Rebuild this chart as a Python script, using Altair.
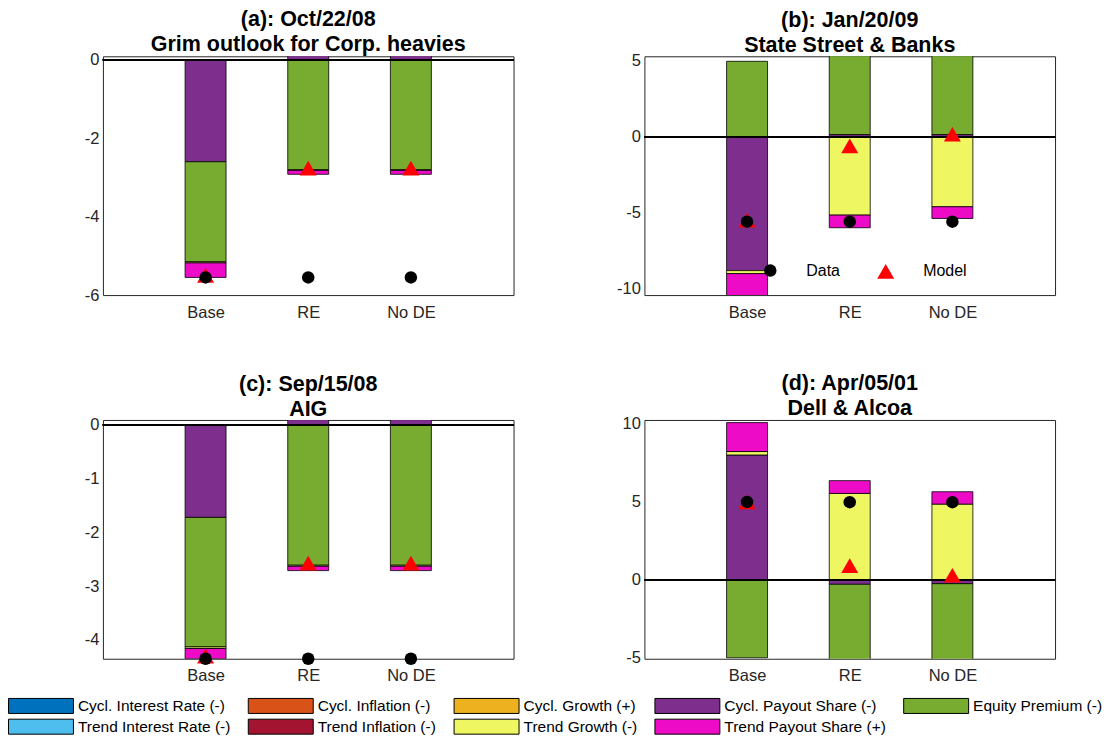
import altair as alt
import pandas as pd

components = ["Cycl. Interest Rate (-)", "Cycl. Inflation (-)", "Cycl. Growth (+)",
              "Cycl. Payout Share (-)", "Equity Premium (-)", "Trend Interest Rate (-)",
              "Trend Inflation (-)", "Trend Growth (-)", "Trend Payout Share (+)"]
colors = ["#0072BD", "#D95319", "#EDB120", "#7E2F8E", "#77AC30",
          "#4DBEEE", "#A2142F", "#EEF662", "#EE0BC8"]
scenarios = ["Base", "RE", "No DE"]
kinds = ["Data", "Model"]

# panel (a)
a_title = ["(a): Oct/22/08", "Grim outlook for Corp. heavies"]
a_base = [0, 0, 0, -2.6, -2.55, 0, 0, -0.03, -0.37]
a_re = [0, 0, 0, 0.3, -2.8, 0, 0, -0.02, -0.1]
a_node = [0, 0, 0, 0.3, -2.8, 0, 0, -0.02, -0.1]
a_data = [-5.55, -5.55, -5.55]
a_model = [-5.5, -2.76, -2.76]
a_ylim = [-6.0, 0.09]
a_ticks = [-6, -4, -2, 0]

# panel (b)
b_title = ["(b): Jan/20/09", "State Street & Banks"]
b_base = [0, 0, 0, -8.8, 4.97, 0, 0, -0.2, -2.5]
b_re = [0, 0, 0, 0.15, 6.0, 0, 0, -5.15, -0.83]
b_node = [0, 0, 0, 0.15, 6.0, 0, 0, -4.6, -0.77]
b_data = [-5.58, -5.58, -5.58]
b_model = [-5.48, -0.6, 0.17]
b_ylim = [-10.41, 5.3]
b_ticks = [-10, -5, 0, 5]

# panel (c)
c_title = ["(c): Sep/15/08", "AIG"]
c_base = [0, 0, 0, -1.72, -2.41, 0, 0, -0.03, -0.19]
c_re = [0, 0, 0, 0.1, -2.61, 0, 0, -0.02, -0.08]
c_node = [0, 0, 0, 0.1, -2.61, 0, 0, -0.02, -0.08]
c_data = [-4.35, -4.35, -4.35]
c_model = [-4.3, -2.57, -2.57]
c_ylim = [-4.35, 0.093]
c_ticks = [-4, -3, -2, -1, 0]

# panel (d)
d_title = ["(d): Apr/05/01", "Dell & Alcoa"]
d_base = [0, 0, 0, 7.97, -5.0, 0, 0, 0.22, 1.85]
d_re = [0, 0, 0, -0.3, -5.2, 0, 0, 5.51, 0.82]
d_node = [0, 0, 0, -0.26, -5.2, 0, 0, 4.83, 0.79]
d_data = [4.97, 4.95, 4.95]
d_model = [4.97, 0.9, 0.28]
d_ylim = [-5.06, 10.21]
d_ticks = [-5, 0, 5, 10]

FONT = "Liberation Sans"

fill_legend = alt.Legend(
    orient="none", legendX=-95, legendY=642, columns=5, direction="horizontal",
    title=None, symbolType="M-1,-1L7.667,-1L7.667,1L-1,1Z",
    symbolSize=225, symbolStrokeColor="black", symbolStrokeWidth=1,
    labelFontSize=15.5, labelFont=FONT, labelColor="black", labelLimit=400,
    columnPadding=15, rowPadding=1, labelOffset=54, gridAlign="each", padding=0,
)
pt_legend = alt.Legend(
    orient="none", legendX=660, legendY=205.5, direction="horizontal", title=None,
    labelFontSize=16, labelFont=FONT, labelColor="black", labelOffset=28,
    columnPadding=36, padding=0,
)

label_fix = "replace(datum.label, '\u2212', '-')"


def panel(title, vals, data, model, ylim, ticks):
    rows = []
    for s, v in zip(scenarios, vals):
        for i, (c, x) in enumerate(zip(components, v)):
            rows.append({"scenario": s, "component": c, "order": i, "value": x})
    bars_df = pd.DataFrame(rows)
    pts = []
    for s, d, m in zip(scenarios, data, model):
        pts.append({"scenario": s, "kind": "Data", "value": d})
        pts.append({"scenario": s, "kind": "Model", "value": m})
    pts_df = pd.DataFrame(pts)

    x = alt.X("scenario:N", sort=scenarios,
              scale=alt.Scale(type="point", domain=scenarios, padding=1),
              axis=alt.Axis(title=None, labelAngle=0, labelPadding=9))
    yaxis = alt.Axis(title=None, values=ticks, labelPadding=4, labelExpr=label_fix)
    yscale = alt.Scale(domain=ylim, nice=False, zero=False)
    y = alt.Y("value:Q", scale=yscale, axis=yaxis)

    bars = alt.Chart(bars_df).transform_filter("datum.value != 0").mark_bar(
        size=41, clip=True, stroke="black", strokeWidth=0.8
    ).encode(
        x=x,
        y=alt.Y("value:Q", stack="zero", scale=yscale, axis=yaxis),
        fill=alt.Fill("component:N", scale=alt.Scale(domain=components, range=colors),
                      legend=fill_legend),
        order=alt.Order("order:Q"),
    )
    zero = alt.Chart(bars_df).mark_rule(color="black", strokeWidth=1).encode(
        y=alt.datum(0)
    )
    enc = dict(
        x=x, y=y,
        color=alt.Color("kind:N", scale=alt.Scale(domain=kinds, range=["black", "red"]),
                        legend=pt_legend),
        shape=alt.Shape("kind:N", scale=alt.Scale(domain=kinds, range=["circle", "triangle-up"]),
                        legend=pt_legend),
        size=alt.Size("kind:N", scale=alt.Scale(domain=kinds, range=[156, 289]),
                      legend=pt_legend),
    )
    model_pts = alt.Chart(pts_df).transform_filter("datum.kind == 'Model'").mark_point(
        filled=True, opacity=1).encode(**enc)
    data_pts = alt.Chart(pts_df).transform_filter("datum.kind == 'Data'").mark_point(
        filled=True, opacity=1).encode(**enc)
    return alt.layer(bars, zero, model_pts, data_pts).properties(
        width=411, height=239,
        title=alt.TitleParams(title, anchor="middle", lineHeight=25, offset=-4),
    )


pa = panel(a_title, [a_base, a_re, a_node], a_data, a_model, a_ylim, a_ticks)
pb = panel(b_title, [b_base, b_re, b_node], b_data, b_model, b_ylim, b_ticks)
pc = panel(c_title, [c_base, c_re, c_node], c_data, c_model, c_ylim, c_ticks)
pd_ = panel(d_title, [d_base, d_re, d_node], d_data, d_model, d_ylim, d_ticks)

chart = alt.concat(
    pa, pb, pc, pd_, columns=2,
    spacing=alt.RowColnumber(row=125, column=131), bounds="flush",
).properties(
    padding={"top": 0, "left": 0, "right": 0, "bottom": 0}
).configure_view(
    stroke="#262626", strokeWidth=1
).configure_axis(
    domain=False, ticks=False, tickSize=0, grid=False,
    labelFont=FONT, labelFontSize=16.5, labelColor="#262626",
).configure_title(
    font=FONT, fontSize=21.5, fontWeight="bold", color="black",
)

chart.save("out.html", embed_options={"renderer": "svg", "actions": False})
